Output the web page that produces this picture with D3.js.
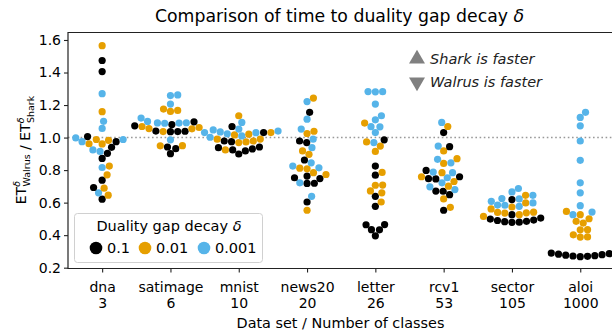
<!DOCTYPE html>
<html>
<head>
<meta charset="utf-8">
<script src="https://cdn.jsdelivr.net/npm/d3@7"></script>
<style>
  html, body { margin: 0; padding: 0; background: #fff; }
  #chart { width: 612px; height: 332px; }
  text { font-family: "DejaVu Sans", sans-serif; fill: #000; }
</style>
</head>
<body>
<div id="chart"></div>
<script>

// data set names and class counts
const datasets = ['dna', 'satimage', 'mnist', 'news20', 'letter', 'rcv1', 'sector', 'aloi'];
const classCounts = ['3', '6', '10', '20', '26', '53', '105', '1000'];

// duality gap decay levels
const deltas = ['0.1', '0.01', '0.001'];
const deltaColors = ['#000000', '#E69F00', '#56B4E9'];

// ratio ET_walrus / ET_shark, one list per data set
const ratioDelta1 = [
  [1.474, 1.406, 1.006, 0.975, 0.940, 0.903, 0.872, 0.738, 0.693, 0.621],
  [1.097, 1.072, 1.039, 1.037, 1.036, 1.040, 1.080, 0.932, 0.942, 0.901],
  [1.031, 0.942, 0.930, 0.918, 0.899, 1.068, 0.975, 0.979, 0.924, 0.938],
  [1.155, 0.969, 0.979, 0.862, 0.763, 0.748, 0.718, 0.719, 0.753, 0.604],
  [0.986, 0.825, 0.769, 0.639, 0.577, 0.464, 0.465, 0.433, 0.434, 0.396],
  [1.031, 0.944, 0.798, 0.746, 0.747, 0.759, 0.670, 0.671, 0.649, 0.553],
  [0.479, 0.480, 0.483, 0.485, 0.490, 0.493, 0.499, 0.505, 0.526, 0.619],
  [0.268, 0.270, 0.272, 0.274, 0.277, 0.280, 0.283, 0.286, 0.290, 0.294]
];

const ratioDelta2 = [
  [1.565, 1.159, 0.983, 0.961, 0.962, 0.988, 0.825, 0.771, 0.689, 0.646],
  [1.161, 1.167, 1.175, 1.062, 1.037, 1.068, 1.054, 1.055, 0.949, 0.950],
  [1.134, 1.031, 0.990, 0.979, 0.973, 0.969, 1.021, 1.016, 0.924, 0.991],
  [1.243, 1.039, 1.025, 0.918, 0.897, 0.808, 0.812, 0.773, 0.784, 0.553],
  [1.089, 0.973, 0.948, 0.915, 0.786, 0.707, 0.708, 0.660, 0.672, 0.604],
  [1.068, 0.918, 0.870, 0.841, 0.759, 0.784, 0.701, 0.623, 0.571, 0.730],
  [0.645, 0.515, 0.561, 0.536, 0.526, 0.573, 0.537, 0.540, 0.541, 0.598],
  [0.546, 0.526, 0.501, 0.485, 0.474, 0.433, 0.434, 0.402, 0.388, 0.389]
];

const ratioDelta3 = [
  [0.998, 0.975, 0.988, 1.270, 1.100, 1.056, 0.915, 0.924, 0.816, 0.660],
  [1.258, 1.262, 1.206, 1.089, 1.090, 1.120, 1.088, 1.091, 1.099, 0.986],
  [1.093, 1.047, 1.040, 1.023, 1.031, 1.035, 1.052, 1.030, 1.010, 1.002],
  [1.221, 1.113, 1.052, 0.938, 0.845, 0.825, 0.814, 0.722, 0.639, 0.990],
  [1.282, 1.283, 1.281, 1.206, 1.134, 1.109, 1.066, 1.067, 1.031, 0.969],
  [1.093, 0.948, 0.845, 0.866, 0.784, 0.788, 0.753, 0.722, 0.697, 0.680],
  [0.687, 0.666, 0.645, 0.608, 0.598, 0.584, 0.625, 0.585, 0.577, 0.623],
  [1.155, 1.124, 1.072, 0.979, 0.860, 0.722, 0.660, 0.581, 0.526, 0.542]
];

const yTicks = [0.2, 0.4, 0.6, 0.8, 1.0, 1.2, 1.4, 1.6];


/**
 * Swarm chart.
 * @class
 */
class SwarmChart {

  constructor(series) {

    this._series = series;
    this._width = 612;
    this._height = 332;
    this._margin = { left: 68, top: 32.5, right: -2.4, bottom: 63.5 };
    this._radius = 3.6;
    this._gap = 7.3;
  }


  renderTo(selector) {

    const container = d3.select(selector);
    container.selectAll('*').remove();

    const m = this._margin;
    const innerW = this._width - m.left - m.right;
    const innerH = this._height - m.top - m.bottom;

    this._x = d3.scalePoint()
      .domain(datasets)
      .range([0, innerW])
      .padding(0.5);

    this._y = d3.scaleLinear()
      .domain([0.195, 1.646])
      .range([innerH, 0]);

    const svg = container.append('svg')
      .attr('width', this._width)
      .attr('height', this._height);

    svg.append('text')
      .attr('x', 339.5)
      .attr('y', 22)
      .attr('text-anchor', 'middle')
      .style('font-size', '17.3px')
      .text('Comparison of time to duality gap decay ')
      .append('tspan')
      .style('font-style', 'italic')
      .text('δ');

    const canvas = svg.append('g')
      .attr('transform', 'translate(' + [m.left, m.top] + ')');

    // reference line at ratio 1
    canvas.append('line')
      .attr('x1', 0)
      .attr('x2', innerW)
      .attr('y1', this._y(1))
      .attr('y2', this._y(1))
      .style('stroke', '#999')
      .style('stroke-width', 1.6)
      .style('stroke-dasharray', '1.6,2.6');

    // swarm points
    const points = [];
    datasets.forEach((name, i) => {
      const group = [];
      this._series.forEach((s, k) => {
        s.values[i].forEach(v => group.push({ value: v, color: s.color, k: k }));
      });
      this._swarm(group).forEach(p => {
        p.cx = this._x(name) + p.dx;
        points.push(p);
      });
    });

    canvas.selectAll('circle.pt')
      .data(points)
      .enter()
      .append('circle')
      .attr('class', 'pt')
      .attr('cx', d => d.cx)
      .attr('cy', d => d.cy)
      .attr('r', this._radius)
      .style('fill', d => d.color);

    // axes
    const yAxis = canvas.append('g')
      .call(d3.axisLeft(this._y).tickValues(yTicks).tickFormat(d3.format('.1f')).tickSize(4).tickPadding(3));

    const xAxis = canvas.append('g')
      .attr('transform', 'translate(0,' + innerH + ')')
      .call(d3.axisBottom(this._x).tickSize(4).tickFormat(''));

    [yAxis, xAxis].forEach(a => {
      a.select('.domain').remove();
      a.selectAll('line').style('stroke', '#222').style('stroke-width', 1.1);
      a.selectAll('text').style('font-size', '14px').style('fill', '#000');
    });

    xAxis.selectAll('.tick').each(function(d, i) {
      const t = d3.select(this).append('text')
        .attr('text-anchor', 'middle')
        .style('font-size', '14px')
        .style('fill', '#000');
      t.append('tspan').attr('x', 0).attr('y', 23).text(d);
      t.append('tspan').attr('x', 0).attr('y', 39).text(classCounts[i]);
    });

    // spines
    canvas.append('path')
      .attr('d', 'M' + innerW + ',0H0V' + innerH + 'H' + innerW)
      .style('fill', 'none')
      .style('stroke', '#222')
      .style('stroke-width', 1.2);

    svg.append('text')
      .attr('x', 340.5)
      .attr('y', 327.5)
      .attr('text-anchor', 'middle')
      .style('font-size', '14.4px')
      .text('Data set / Number of classes');

    this._renderYLabel(svg);
    this._renderNotes(svg);
    this._renderLegend(svg);

    return this;
  }


  _swarm(group) {

    const d = this._gap;
    const placed = [];

    group.sort((a, b) => a.value - b.value);

    group.forEach(p => {
      p.cy = this._y(p.value);
      const near = placed.filter(q => Math.abs(q.cy - p.cy) < d);
      const candidates = [0];
      near.forEach(q => {
        const off = Math.sqrt(d * d - (q.cy - p.cy) * (q.cy - p.cy));
        candidates.push(q.dx + off, q.dx - off);
      });
      candidates.sort((a, b) => Math.abs(a) - Math.abs(b));
      p.dx = candidates.find(c => near.every(q => {
        const dx = q.dx - c;
        const dy = q.cy - p.cy;
        return dx * dx + dy * dy >= d * d - 0.01;
      }));
      placed.push(p);
    });

    return group;
  }


  _renderYLabel(svg) {

    const label = svg.append('text')
      .attr('transform', 'translate(26,150) rotate(-90)')
      .attr('text-anchor', 'middle')
      .style('font-size', '14px');

    const part = (sub) => {
      label.append('tspan').text('ET');
      label.append('tspan').attr('dy', -6).style('font-size', '9.5px').style('font-style', 'italic').text('δ');
      label.append('tspan').attr('dx', -5.5).attr('dy', 10).style('font-size', '9.5px').text(sub);
      label.append('tspan').attr('dy', -4).text('');
    };

    part('Walrus');
    label.append('tspan').text(' / ');
    part('Shark');
  }


  _renderNotes(svg) {

    const notes = [
      { text: 'Shark is faster', y: 59, rotate: 0 },
      { text: 'Walrus is faster', y: 82, rotate: 180 }
    ];

    const g = svg.selectAll('g.note')
      .data(notes)
      .enter()
      .append('g')
      .attr('class', 'note');

    g.append('path')
      .attr('d', d3.symbol().type(d3.symbolTriangle).size(110))
      .attr('transform', d => 'translate(417,' + d.y + ') rotate(' + d.rotate + ')')
      .style('fill', '#808080');

    g.append('text')
      .attr('x', 430)
      .attr('y', d => d.y + 5)
      .style('font-size', '14.5px')
      .style('font-style', 'italic')
      .style('fill', '#222')
      .text(d => d.text);
  }


  _renderLegend(svg) {

    const g = svg.append('g');

    g.append('rect')
      .attr('x', 74.5)
      .attr('y', 213.5)
      .attr('width', 188)
      .attr('height', 49)
      .attr('rx', 3)
      .style('fill', 'rgba(255,255,255,0.85)')
      .style('stroke', '#d0d0d0')
      .style('stroke-width', 1);

    g.append('text')
      .attr('x', 169)
      .attr('y', 231)
      .attr('text-anchor', 'middle')
      .style('font-size', '14.5px')
      .text('Duality gap decay ')
      .append('tspan')
      .style('font-style', 'italic')
      .text('δ');

    const items = g.selectAll('g.item')
      .data(this._series)
      .enter()
      .append('g')
      .attr('class', 'item')
      .attr('transform', (d, i) => 'translate(' + [96, 145, 204][i] + ',248)');

    items.append('circle')
      .attr('r', 6.3)
      .style('fill', d => d.color);

    items.append('text')
      .attr('x', 11)
      .attr('y', 5)
      .style('font-size', '14.5px')
      .text(d => d.label);
  }
}


const series = [ratioDelta1, ratioDelta2, ratioDelta3].map((values, k) => ({
  label: deltas[k],
  color: deltaColors[k],
  values: values
}));

new SwarmChart(series).renderTo('#chart');

</script>
</body>
</html>
